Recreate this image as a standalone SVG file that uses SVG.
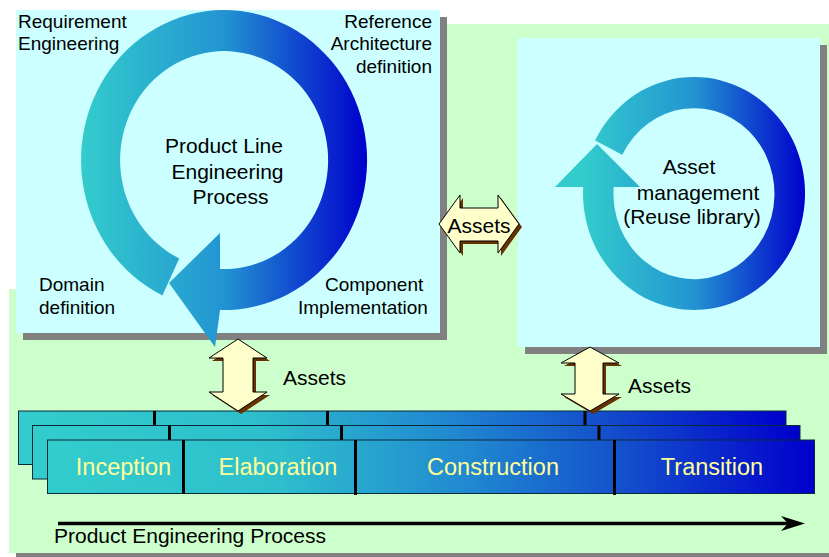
<svg xmlns="http://www.w3.org/2000/svg" width="829" height="557" viewBox="0 0 829 557">
<defs>
<style>
text{font-family:"Liberation Sans",Arial,sans-serif;fill:#000}
.t19{font-size:19px}
.t21{font-size:21px}
.ph{font-size:23.5px;fill:#FFFF99}
.box{fill:#CCFFFF}
.shadow{fill:#808080}
.dbl{fill:#FFFFCC;stroke:#000;stroke-width:1}
.dsh{fill:#663300}
.layer{stroke:#0a2a3a;stroke-width:1}
.div{stroke:#000;stroke-width:3}
</style>
<linearGradient id="gL" gradientUnits="userSpaceOnUse" x1="81" y1="0" x2="367" y2="0">
<stop offset="0" stop-color="#33CCCC"/><stop offset="0.5" stop-color="#2294D2"/><stop offset="1" stop-color="#0000CC"/>
</linearGradient>
<linearGradient id="gR" gradientUnits="userSpaceOnUse" x1="583" y1="0" x2="805" y2="0">
<stop offset="0" stop-color="#33CCCC"/><stop offset="0.5" stop-color="#2294D2"/><stop offset="1" stop-color="#0000CC"/>
</linearGradient>
<linearGradient id="gP" x1="0" y1="0" x2="1" y2="0">
<stop offset="0" stop-color="#33CCCC"/><stop offset="0.3" stop-color="#2EBFCC"/><stop offset="0.55" stop-color="#2088D0"/><stop offset="0.75" stop-color="#1450CC"/><stop offset="1" stop-color="#0000CC"/>
</linearGradient>
</defs>
<rect x="0" y="0" width="829" height="557" fill="#FFFFFF"/>
<g id="background">
<rect x="16" y="553" width="813" height="4" class="shadow"/>
<polygon points="9,289 100,289 100,24 829,24 829,553 9,553" fill="#CCFFCC"/>
</g>
<g id="ple-box">
<rect x="23" y="17" width="424" height="323" class="shadow"/>
<rect x="16" y="10" width="424" height="323" class="box"/>
<path d="M 162.4 295.4 A 143 150 0 1 1 220 310 L 215 347 L 169 283 L 220 233 L 220 269 A 104 109 0 1 0 179.2 258.4 Z" fill="url(#gL)"/>
<text class="t19" x="18" y="27.5">Requirement</text>
<text class="t19" x="18" y="50">Engineering</text>
<text class="t19" x="432" y="27.5" text-anchor="end">Reference</text>
<text class="t19" x="432" y="50" text-anchor="end">Architecture</text>
<text class="t19" x="432" y="72.5" text-anchor="end">definition</text>
<text class="t19" x="39" y="291">Domain</text>
<text class="t19" x="39" y="313.5">definition</text>
<text class="t19" x="325" y="291">Component</text>
<text class="t19" x="298" y="313.5">Implementation</text>
<text class="t21" x="224" y="152.5" text-anchor="middle">Product Line</text>
<text class="t21" x="227.5" y="179" text-anchor="middle">Engineering</text>
<text class="t21" x="230.5" y="204" text-anchor="middle">Process</text>
</g>
<g id="asset-box">
<rect x="525" y="45" width="302" height="309" class="shadow"/>
<rect x="518" y="38" width="302" height="309" class="box"/>
<path d="M 595.1 140.6 A 111 116.5 0 1 1 583.2 187 L 555 187 L 597 144 L 640 187 L 613.7 187 A 80.5 85.5 0 1 0 622.3 154.7 Z" fill="url(#gR)"/>
<text class="t21" x="689" y="174" text-anchor="middle">Asset</text>
<text class="t21" x="698" y="200" text-anchor="middle">management</text>
<text class="t21" x="692" y="224" text-anchor="middle">(Reuse library)</text>
</g>
<g id="phases">
<rect x="18.5" y="411" width="767.5" height="53.5" fill="url(#gP)" class="layer"/>
<line x1="154.5" y1="411" x2="154.5" y2="425" class="div"/>
<line x1="327.5" y1="411" x2="327.5" y2="425" class="div"/>
<line x1="585" y1="411" x2="585" y2="425" class="div"/>
<rect x="32.5" y="425.5" width="767.5" height="53.5" fill="url(#gP)" class="layer"/>
<line x1="169.5" y1="425.5" x2="169.5" y2="440" class="div"/>
<line x1="341.5" y1="425.5" x2="341.5" y2="440" class="div"/>
<line x1="599" y1="425.5" x2="599" y2="440" class="div"/>
<rect x="47.5" y="440" width="767" height="53.5" fill="url(#gP)" class="layer"/>
<line x1="183.5" y1="440" x2="183.5" y2="494" class="div"/>
<line x1="355.5" y1="440" x2="355.5" y2="495" class="div"/>
<line x1="614.5" y1="440" x2="614.5" y2="495" class="div"/>
<text class="ph" x="123.5" y="475" text-anchor="middle">Inception</text>
<text class="ph" x="278" y="475" text-anchor="middle">Elaboration</text>
<text class="ph" x="493" y="475" text-anchor="middle">Construction</text>
<text class="ph" x="712" y="475" text-anchor="middle">Transition</text>
</g>
<g id="connectors">
<g id="assets-horizontal">
<polygon class="dsh" transform="translate(3,3)" points="439,224 460,195 460,208 498,208 498,195 519,224 498,253 498,241 460,241 460,253"/>
<polygon class="dbl" points="439,224 460,195 460,208 498,208 498,195 519,224 498,253 498,241 460,241 460,253"/>
<text class="t21" x="479" y="233" text-anchor="middle">Assets</text>
</g>
<g id="assets-left">
<polygon class="dsh" transform="translate(3,3)" points="238,339 209,358 223,358 223,392 209,392 238,411 267,392 253,392 253,358 267,358"/>
<polygon class="dbl" points="238,339 209,358 223,358 223,392 209,392 238,411 267,392 253,392 253,358 267,358"/>
<text class="t21" x="283" y="385">Assets</text>
</g>
<g id="assets-right">
<polygon class="dsh" transform="translate(3,3)" points="590,347 561,363 575,363 575,394 561,394 590,411 619,394 603,394 603,363 619,363"/>
<polygon class="dbl" points="590,347 561,363 575,363 575,394 561,394 590,411 619,394 603,394 603,363 619,363"/>
<text class="t21" x="628" y="393">Assets</text>
</g>
<g id="timeline">
<line x1="58" y1="523.5" x2="790" y2="523.5" stroke="#000" stroke-width="3.5"/>
<polygon points="781,516 805,523.5 781,531 788,523.5" fill="#000"/>
<text class="t21" x="54" y="543">Product Engineering Process</text>
</g>
</g>
</svg>
